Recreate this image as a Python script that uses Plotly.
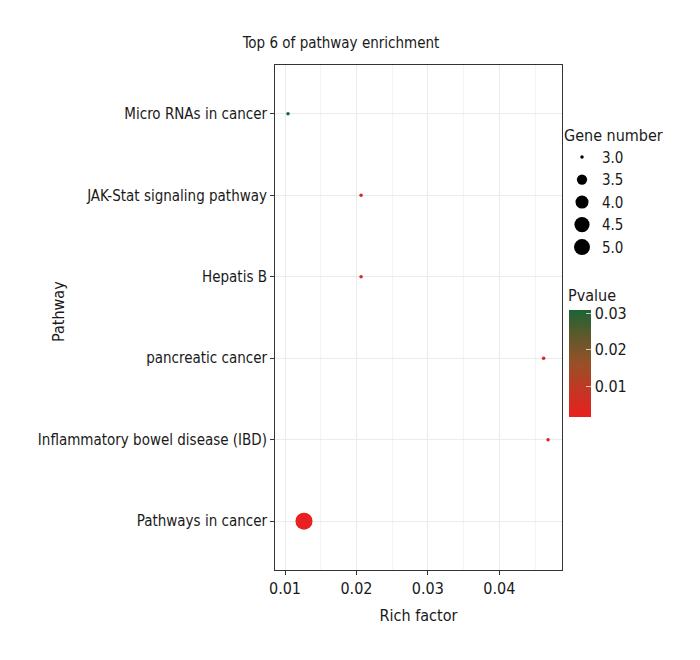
import plotly.graph_objects as go
import math

# ---- data (bottom to top) ----
pathways = ["Pathways in cancer", "Inflammatory bowel disease (IBD)", "pancreatic cancer",
            "Hepatis B", "JAK-Stat signaling pathway", "Micro RNAs in cancer"]
rich_factor = [0.01266, 0.04683, 0.04621, 0.02065, 0.02065, 0.01042]
gene_number = [5, 3, 3, 3, 3, 3]
pvalue = [0.0015, 0.0030, 0.0032, 0.0060, 0.0060, 0.0310]

legend_sizes = [3.0, 3.5, 4.0, 4.5, 5.0]
cbar_ticks = [0.01, 0.02, 0.03]

GMIN, GMAX = 3.0, 5.0
def size_px(g):
    t = (g - GMIN) / (GMAX - GMIN)
    return 3.5 + 13.5 * math.sqrt(t)

FONT = "DejaVu Sans Condensed, Liberation Sans Narrow, sans-serif"
FS = 15
colorscale = [[0.0, "#e8201f"], [0.25, "#c43624"], [0.5, "#985028"],
              [0.75, "#60592c"], [1.0, "#1d6333"]]

L, R, T, B = 275, 562, 65, 570
W, H = 700, 660

def px(xp):
    return (xp - L) / (R - L)

def py(yp):
    return (B - yp) / (B - T)

fig = go.Figure()
fig.add_trace(go.Scatter(
    x=rich_factor, y=pathways, mode="markers", showlegend=False,
    marker=dict(size=[size_px(g) for g in gene_number], color=pvalue, opacity=1,
                colorscale=colorscale, cmin=0.0015, cmax=0.0309,
                line=dict(width=0),
                colorbar=dict(
                    thickness=22, thicknessmode="pixels",
                    len=107, lenmode="pixels",
                    x=px(569), xanchor="left", xpad=0,
                    y=py(363.5), yanchor="middle", ypad=0,
                    outlinewidth=0,
                    tickvals=cbar_ticks, ticktext=["0.01", "0.02", "0.03"],
                    ticks="inside", ticklen=5, tickcolor="rgba(255,255,255,0.7)",
                    tickfont=dict(family=FONT, size=FS + 1, color="#1a1a1a"),
                )),
))

for g in legend_sizes:
    fig.add_trace(go.Scatter(
        x=[None], y=[None], mode="markers", name=f"{g:.1f}",
        marker=dict(size=size_px(g), color="black", opacity=1, line=dict(width=0)),
    ))

fig.add_annotation(text="Pvalue", xref="paper", yref="paper",
                   x=px(566), y=py(295),
                   xanchor="left", yanchor="middle", showarrow=False,
                   font=dict(family=FONT, size=FS + 1, color="#1a1a1a"))
fig.add_annotation(text="Pathway", xref="paper", yref="paper",
                   x=px(58), y=py(312), textangle=-90,
                   xanchor="center", yanchor="middle", showarrow=False,
                   font=dict(family=FONT, size=FS + 1, color="#1a1a1a"))

fig.update_layout(
    width=W, height=H,
    margin=dict(l=L, r=W - R, t=T, b=H - B, autoexpand=False),
    plot_bgcolor="white", paper_bgcolor="white",
    font=dict(family=FONT, size=FS, color="#1a1a1a"),
    title=dict(text="Top 6 of pathway enrichment", x=341 / W, xanchor="center",
               y=1 - 43 / H, yanchor="middle",
               font=dict(family=FONT, size=FS, color="#1a1a1a")),
    legend=dict(
        title=dict(text="Gene number", font=dict(family=FONT, size=FS + 1)),
        x=px(562), xanchor="left",
        y=py(120), yanchor="top",
        itemsizing="trace", tracegroupgap=0,
        font=dict(family=FONT, size=FS, color="#1a1a1a"),
        bgcolor="rgba(0,0,0,0)",
    ),
    xaxis=dict(
        range=[0.0086, 0.04878], tickvals=[0.01, 0.02, 0.03, 0.04],
        ticktext=["0.01", "0.02", "0.03", "0.04"],
        showgrid=True, gridcolor="#ebebeb", gridwidth=1,
        minor=dict(tickvals=[0.015, 0.025, 0.035, 0.045], showgrid=True,
                   gridcolor="#f4f4f4", gridwidth=0.7),
        ticks="outside", ticklen=4, tickcolor="#333333",
        showline=True, linecolor="#333333", linewidth=1, mirror=True,
        zeroline=False,
        title=dict(text="Rich factor", font=dict(family=FONT, size=FS + 1), standoff=12),
        tickfont=dict(family=FONT, size=FS + 1, color="#1a1a1a"),
    ),
    yaxis=dict(
        type="category", categoryorder="array", categoryarray=pathways,
        range=[-0.6, len(pathways) - 0.4],
        showgrid=True, gridcolor="#ebebeb", gridwidth=1,
        ticks="outside", ticklen=4, tickcolor="#333333",
        showline=True, linecolor="#333333", linewidth=1, mirror=True,
        zeroline=False,
        tickfont=dict(family=FONT, size=FS, color="#1a1a1a"),
    ),
)

fig.write_html("out.html", config={"displayModeBar": False},
               post_script="document.body.style.margin='0';")
